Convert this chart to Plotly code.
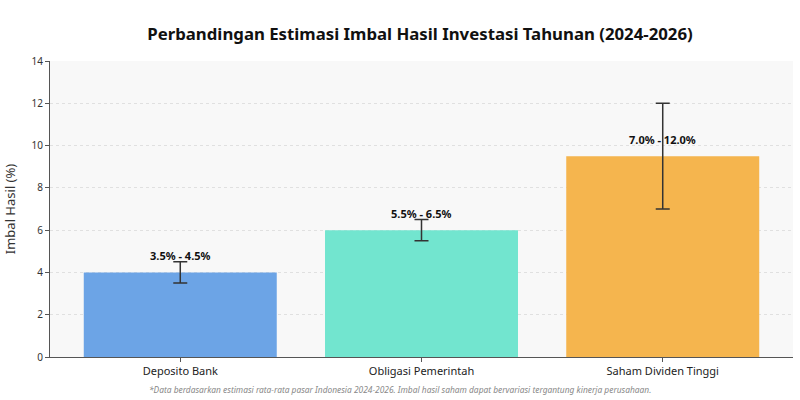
import plotly.graph_objects as go

categories = ["Deposito Bank", "Obligasi Pemerintah", "Saham Dividen Tinggi"]
low_vals = [3.5, 5.5, 7.0]
high_vals = [4.5, 6.5, 12.0]
mid_vals = [(l + h) / 2 for l, h in zip(low_vals, high_vals)]
err_vals = [(h - l) / 2 for l, h in zip(low_vals, high_vals)]
labels = [f"{l:.1f}% - {h:.1f}%" for l, h in zip(low_vals, high_vals)]
colors = ["#6CA4E6", "#72E5CF", "#F5B54E"]

FONT = "Noto Sans"

fig = go.Figure()
fig.add_trace(go.Bar(
    x=categories, y=mid_vals,
    marker=dict(color=colors, line=dict(width=0)),
    error_y=dict(type="data", array=err_vals, visible=True,
                 color="#333333", thickness=1.5, width=7),
    width=0.8,
    hoverinfo="skip",
))

for c, m, lab in zip(categories, mid_vals, labels):
    fig.add_annotation(x=c, y=m, text=f"<b>{lab}</b>", showarrow=False,
                       yanchor="bottom", yshift=7,
                       font=dict(family=FONT, size=11, color="#111111"))

fig.add_annotation(
    text="<i>*Data berdasarkan estimasi rata-rata pasar Indonesia 2024-2026. Imbal hasil saham dapat bervariasi tergantung kinerja perusahaan.</i>",
    xref="paper", yref="paper", x=0.471, y=-0.085, yanchor="top", showarrow=False,
    font=dict(family=FONT, size=8.4, color="#888888"))

fig.update_layout(
    width=800, height=400,
    margin=dict(l=50, r=7, t=61, b=43),
    paper_bgcolor="white",
    plot_bgcolor="#F8F8F8",
    font=dict(family=FONT, color="#222222"),
    title=dict(text="<b>Perbandingan Estimasi Imbal Hasil Investasi Tahunan (2024-2026)</b>",
               x=0.525, xanchor="center", y=0.915, yanchor="middle",
               font=dict(family=FONT, size=16.8, color="#111111")),
    showlegend=False,
    bargap=0.2,
)
fig.update_yaxes(
    range=[0, 14], dtick=2, title=dict(text="Imbal Hasil (%)", font=dict(size=13, color="#333333"), standoff=12),
    showgrid=True, gridcolor="#E0E0E0", griddash="dot", gridwidth=1,
    showline=True, linecolor="#555555", linewidth=1,
    ticks="outside", ticklen=4, tickcolor="#555555",
    tickfont=dict(size=10, color="#333333"), zeroline=False,
)
fig.update_xaxes(
    range=[-0.54, 2.54],
    showline=True, linecolor="#555555", linewidth=1,
    ticks="outside", ticklen=4, tickcolor="#555555",
    tickfont=dict(size=11, color="#222222"), showgrid=False,
)

fig.write_html("out.html")
